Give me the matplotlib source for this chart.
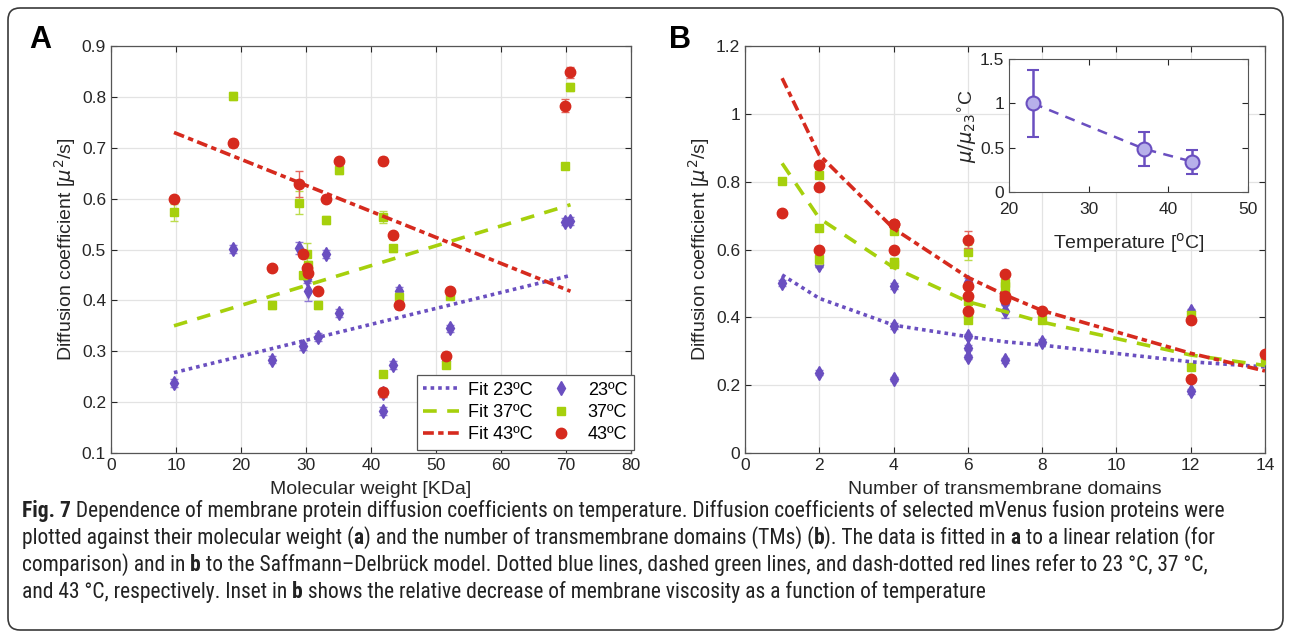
import os
import numpy as np
import matplotlib
matplotlib.use('Agg')
import matplotlib.pyplot as plt
from matplotlib.lines import Line2D
from matplotlib.patches import FancyBboxPatch
from matplotlib.transforms import IdentityTransform
from matplotlib import font_manager
from matplotlib.font_manager import FontProperties

# datos de las proteinas (peso molecular, dominios TM, coeficientes D)
mw = [9.7, 18.8, 24.8, 29.0, 29.5, 30.2, 30.3, 31.8, 33.1, 35.1, 41.9, 41.8, 43.4, 44.3, 52.2, 51.5, 69.8, 70.7]
tm = [2, 1, 6, 6, 6, 7, 7, 8, 4, 4, 4, 12, 7, 12, 6, 14, 2, 2]
d23 = [0.237, 0.501, 0.283, 0.503, 0.310, 0.443, 0.419, 0.328, 0.492, 0.375, 0.218, 0.182, 0.273, 0.418, 0.345, 0.280, 0.555, 0.556]
d37 = [0.573, 0.802, 0.391, 0.592, 0.449, 0.492, 0.470, 0.391, 0.558, 0.656, 0.564, 0.255, 0.502, 0.407, 0.409, 0.273, 0.664, 0.819]
d43 = [0.600, 0.709, 0.464, 0.629, 0.492, 0.463, 0.454, 0.419, 0.600, 0.674, 0.674, 0.219, 0.528, 0.391, 0.418, 0.291, 0.783, 0.848]
e23 = [0.008, 0.008, 0.007, 0.012, 0.007, 0.008, 0.020, 0.007, 0.008, 0.008, 0.007, 0.008, 0.007, 0.008, 0.007, 0.007, 0.007, 0.007]
e37 = [0.016, 0.008, 0.007, 0.022, 0.007, 0.020, 0.008, 0.007, 0.007, 0.007, 0.012, 0.006, 0.006, 0.007, 0.006, 0.006, 0.006, 0.008]
e43 = [0.006, 0.008, 0.006, 0.025, 0.007, 0.008, 0.008, 0.006, 0.007, 0.006, 0.007, 0.008, 0.007, 0.008, 0.006, 0.007, 0.012, 0.010]

# ajustes lineales (panel A)
fit_mw = [9.7, 70.7]
fit23_a = [0.258, 0.449]
fit37_a = [0.350, 0.588]
fit43_a = [0.730, 0.418]

# ajustes Saffmann-Delbruck (panel B)
fit_tm = [1, 2, 4, 6, 7, 8, 12, 14]
fit23_b = [0.525, 0.456, 0.377, 0.343, 0.328, 0.318, 0.269, 0.254]
fit37_b = [0.854, 0.692, 0.547, 0.446, 0.417, 0.386, 0.289, 0.258]
fit43_b = [1.105, 0.879, 0.662, 0.518, 0.466, 0.420, 0.294, 0.242]

# recuadro: viscosidad relativa
temps = [23, 37, 43]
visc = [1.0, 0.485, 0.342]
visc_err = [0.376, 0.19, 0.135]

c23 = '#6a4fc0'
c37 = '#a6d00c'
c43 = '#d62a1e'
plt.rcParams['font.family'] = ['Liberation Sans', 'DejaVu Sans']

fig = plt.figure(figsize=(12.9, 6.36), dpi=100)


def estilo(ax, xt, yt):
    ax.set_xticks(xt)
    ax.set_yticks(yt)
    ax.set_xticklabels(['%g' % v for v in xt])
    ax.set_yticklabels(['%g' % v for v in yt])
    ax.tick_params(direction='in', top=True, right=True, labelsize=12.5,
                   colors='#262626', length=4, width=0.8)
    ax.grid(True, color='#e3e3e3', lw=0.9)
    ax.set_axisbelow(True)
    for s in ax.spines.values():
        s.set_color('#555555')
        s.set_linewidth(0.9)


def puntos(ax, x):
    ax.errorbar(x, d23, yerr=e23, fmt='d', color=c23, ms=7.5, capsize=3, elinewidth=1, ecolor='#8f7ad6', zorder=3)
    ax.errorbar(x, d37, yerr=e37, fmt='s', color=c37, ms=6, capsize=3, elinewidth=1, ecolor='#bcdc4c', zorder=4)
    ax.errorbar(x, d43, yerr=e43, fmt='o', color=c43, ms=7.5, capsize=3, elinewidth=1, ecolor='#e5675e', zorder=5)


dots = (0, (1, 1.1))
dash = (0, (3.8, 2.9))
dashdot = (0, (3, 1.2, 1.5, 1.2))

# ---- Panel A ----
axA = fig.add_axes([0.0860, 0.2877, 0.4031, 0.6400])
puntos(axA, mw)
l1, = axA.plot(fit_mw, fit23_a, color=c23, lw=2.6, linestyle=dots, zorder=6)
l2, = axA.plot(fit_mw, fit37_a, color=c37, lw=2.6, linestyle=dash, zorder=6)
l3, = axA.plot(fit_mw, fit43_a, color=c43, lw=2.6, linestyle=dashdot, zorder=6)
axA.set_xlim(0, 80)
axA.set_ylim(0.1, 0.9)
estilo(axA, np.arange(0, 81, 10), np.round(np.arange(0.1, 0.91, 0.1), 1))
axA.set_xlabel('Molecular weight [KDa]', fontsize=14, color='#262626', labelpad=6)
axA.set_ylabel('Diffusion coefficient [$\\mu^2$/s]', fontsize=14, color='#262626', labelpad=3)

h23 = Line2D([], [], marker='d', ls='none', color=c23, ms=7.5)
h37 = Line2D([], [], marker='s', ls='none', color=c37, ms=6)
h43 = Line2D([], [], marker='o', ls='none', color=c43, ms=7.5)
leg = axA.legend([l1, l2, l3, h23, h37, h43],
                 ['Fit 23ºC', 'Fit 37ºC', 'Fit 43ºC', '23ºC', '37ºC', '43ºC'],
                 ncol=2, loc='lower right', bbox_to_anchor=(1.005, 0.008), fontsize=13,
                 fancybox=False, edgecolor='#555555', handlelength=2.0,
                 columnspacing=0.55, labelspacing=0.3, borderpad=0.35, handletextpad=0.5,
                 borderaxespad=0, framealpha=1)
leg.get_frame().set_linewidth(0.9)

# ---- Panel B ----
axB = fig.add_axes([0.5775, 0.2877, 0.4031, 0.6400])
puntos(axB, tm)
axB.plot(fit_tm, fit23_b, color=c23, lw=2.6, linestyle=dots, zorder=6)
axB.plot(fit_tm, fit37_b, color=c37, lw=2.6, linestyle=dash, zorder=6)
axB.plot(fit_tm, fit43_b, color=c43, lw=2.6, linestyle=dashdot, zorder=6)
axB.set_xlim(0, 14)
axB.set_ylim(0, 1.2)
estilo(axB, np.arange(0, 15, 2), np.round(np.arange(0, 1.21, 0.2), 1))
axB.set_xlabel('Number of transmembrane domains', fontsize=14, color='#262626', labelpad=6)
axB.set_ylabel('Diffusion coefficient [$\\mu^2$/s]', fontsize=14, color='#262626', labelpad=3)

# ---- recuadro ----
axI = fig.add_axes([0.7822, 0.6981, 0.1853, 0.2091])
axI.errorbar(temps, visc, yerr=visc_err, fmt='--o', color=c23, lw=1.8, ms=10,
             mfc='#b7b0ea', mec=c23, mew=1.5, capsize=4, elinewidth=1.8, dashes=(4, 3))
axI.set_xlim(20, 50)
axI.set_ylim(0, 1.5)
axI.set_xticks([20, 30, 40, 50])
axI.set_yticks([0, 0.5, 1, 1.5])
axI.set_yticklabels(['0', '0.5', '1', '1.5'])
axI.tick_params(direction='in', top=True, right=True, labelsize=12.5, colors='#262626', length=4)
axI.tick_params(axis='x', pad=7)
for s in axI.spines.values():
    s.set_color('#555555')
axI.set_xlabel('Temperature [$^{\\mathrm{o}}$C]', fontsize=14, color='#262626', labelpad=10)
axI.set_ylabel('$\\mu/\\mu_{23}$$^{\\circ}$C', fontsize=14, color='#262626', labelpad=0)

# letras de panel
fig.text(40 / 1290, 1 - 40 / 636, 'A', fontsize=22, fontweight='bold', ha='center', va='center')
fig.text(680 / 1290, 1 - 40 / 636, 'B', fontsize=22, fontweight='bold', ha='center', va='center')

# marco redondeado
fig.patches.append(FancyBboxPatch((8, 6), 1275, 622, boxstyle='round,pad=0,rounding_size=12',
                                  transform=IdentityTransform(), fill=False, ec='#3a3a3a', lw=1.2))

# fuente estrecha para el pie de figura, si existe
rutas = set(font_manager.findSystemFonts()) | {f.fname for f in font_manager.fontManager.ttflist}
por_nombre = {os.path.basename(p).lower(): p for p in rutas}
pares = [('liberationsansnarrow-regular.ttf', 'liberationsansnarrow-bold.ttf'),
         ('robotocondensed-regular.ttf', 'robotocondensed-bold.ttf'),
         ('opensans_condensed-regular.ttf', 'opensans_condensed-bold.ttf'),
         ('opensans-condensedregular.ttf', 'opensans-condensedbold.ttf'),
         ('dejavusanscondensed.ttf', 'dejavusanscondensed-bold.ttf')]
fp_reg = FontProperties(family='Liberation Sans')
fp_bold = FontProperties(family='Liberation Sans', weight='bold')
for r, b in pares:
    if r in por_nombre:
        fp_reg = FontProperties(fname=por_nombre[r])
        fp_bold = FontProperties(fname=por_nombre[b]) if b in por_nombre else FontProperties(fname=por_nombre[r], weight='bold')
        break

caption = [
    [('Fig. 7', True), (' Dependence of membrane protein diffusion coefficients on temperature. Diffusion coefficients of selected mVenus fusion proteins were', False)],
    [('plotted against their molecular weight (', False), ('a', True), (') and the number of transmembrane domains (TMs) (', False), ('b', True),
     ('). The data is fitted in ', False), ('a', True), (' to a linear relation (for', False)],
    [('comparison) and in ', False), ('b', True), (' to the Saffmann\u2013Delbr\u00fcck model. Dotted blue lines, dashed green lines, and dash-dotted red lines refer to 23 \u00b0C, 37 \u00b0C,', False)],
    [('and 43 \u00b0C, respectively. Inset in ', False), ('b', True), (' shows the relative decrease of membrane viscosity as a function of temperature', False)],
]

renderer = fig.canvas.get_renderer()


def linea(parts, y, size):
    x = 22 / 1290
    textos = []
    for txt, bold in parts:
        fp = (fp_bold if bold else fp_reg).copy()
        fp.set_size(size)
        t = fig.text(x, y, txt, fontproperties=fp, va='baseline', ha='left', color='#222222')
        x += t.get_window_extent(renderer=renderer).width / fig.bbox.width
        textos.append(t)
    return x, textos


# ajustar el tamaño para que la primera linea ocupe el ancho original
fin, tmp = linea(caption[0], 0.5, 12)
ancho = (fin - 22 / 1290) * 1290
for t in tmp:
    t.remove()
size = min(12 * 1231 / ancho, 15.5)

ys = [517, 544, 571, 598]
for parts, yp in zip(caption, ys):
    linea(parts, 1 - yp / 636, size)

fig.savefig('out.png', dpi=100)
